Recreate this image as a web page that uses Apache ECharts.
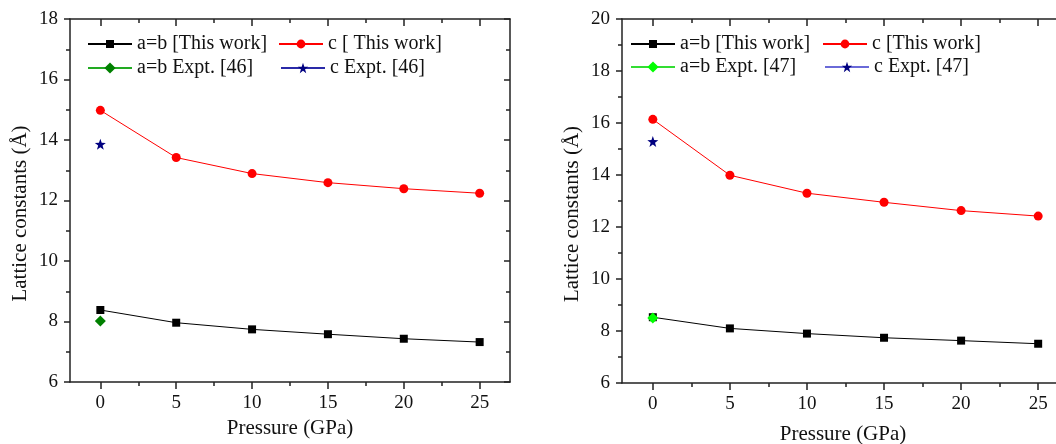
<!DOCTYPE html>
<html><head><meta charset="utf-8">
<script src="https://cdn.jsdelivr.net/npm/echarts@6/dist/echarts.min.js"></script>
<style>
html,body{margin:0;padding:0;background:#fff;}
#wrap{position:relative;width:1056px;height:444px;overflow:hidden;}
#c1{position:absolute;left:0;top:0;width:530px;height:444px;}
#c2{position:absolute;left:530px;top:0;width:526px;height:444px;}
</style>
</head><body><div id="wrap"><div id="c1"></div><div id="c2"></div></div>
<script>
// ---- data ----
const pressure = [0, 5, 10, 15, 20, 25];
const exptPressure = [0];
const xMajorTicks = [0, 5, 10, 15, 20, 25];
const xMinorTicks = [2.5, 7.5, 12.5, 17.5, 22.5];

const leftNames = ['a=b [This work]', 'c [ This work]', 'a=b Expt. [46]', 'c Expt. [46]'];
const leftAB = [8.38, 7.96, 7.74, 7.58, 7.43, 7.32];
const leftC = [14.98, 13.42, 12.89, 12.59, 12.39, 12.24];
const leftABExpt = [8.02];
const leftCExpt = [13.86];

const rightNames = ['a=b [This work]', 'c [This work]', 'a=b Expt. [47]', 'c Expt. [47]'];
const rightAB = [8.53, 8.10, 7.90, 7.74, 7.63, 7.51];
const rightC = [16.14, 13.99, 13.30, 12.95, 12.63, 12.42];
const rightABExpt = [8.50];
const rightCExpt = [15.29];

const yTitle = 'Lattice constants (Å)';
const xTitle = 'Pressure (GPa)';

// ---- styling ----
const FONT = 'Liberation Serif';
const AX = '#222';
const STAR = 'path://M0,-10L2.35,-3.24L9.51,-3.09L3.8,1.24L5.88,8.09L0,4L-5.88,8.09L-3.8,1.24L-9.51,-3.09L-2.35,-3.24Z';

function zip(xs, ys) { return ys.map((y, i) => [xs[i], y]); }

function build(cfg) {
  const g = cfg.grid;
  const lineAx = { show: true, onZero: false, lineStyle: { color: AX, width: 1.5 } };
  const tickStyle = { color: AX, width: 1.5 };
  const label = { fontFamily: FONT, fontSize: 19, color: '#111' };
  const xBase = { type: 'value', min: -2, max: 27, splitLine: { show: false } };
  const xAxis = [
    Object.assign({}, xBase, {
      position: 'bottom', axisLine: lineAx,
      axisTick: { customValues: xMajorTicks, length: 7, lineStyle: tickStyle },
      axisLabel: Object.assign({ customValues: xMajorTicks, margin: 12 }, label),
      name: xTitle, nameLocation: 'middle', nameGap: cfg.xNameGap,
      nameTextStyle: { fontFamily: FONT, fontSize: 21, color: '#111', padding: cfg.xNamePad }
    }),
    Object.assign({}, xBase, {
      position: 'bottom', axisLine: { show: false },
      axisTick: { customValues: xMinorTicks, length: 4, lineStyle: tickStyle },
      axisLabel: { show: false }
    }),
    Object.assign({}, xBase, {
      position: 'top', axisLine: lineAx,
      axisTick: { customValues: xMajorTicks, inside: true, length: 7, lineStyle: tickStyle },
      axisLabel: { show: false }
    }),
    Object.assign({}, xBase, {
      position: 'top', axisLine: { show: false },
      axisTick: { customValues: xMinorTicks, inside: true, length: 4, lineStyle: tickStyle },
      axisLabel: { show: false }
    })
  ];
  const yBase = { type: 'value', min: 6, max: cfg.yMax, interval: 2, splitLine: { show: false } };
  const yAxis = [
    Object.assign({}, yBase, {
      position: 'left', axisLine: lineAx,
      axisTick: { length: 6, lineStyle: tickStyle },
      minorTick: { show: true, splitNumber: 2, length: 4, lineStyle: tickStyle },
      axisLabel: Object.assign({ margin: 12 }, label),
      name: yTitle, nameLocation: 'middle', nameGap: cfg.yNameGap, nameMoveOverlap: false,
      nameTextStyle: { fontFamily: FONT, fontSize: 21, color: '#111', padding: [0, 26, 0, 0] }
    }),
    Object.assign({}, yBase, {
      position: 'right', axisLine: lineAx,
      axisTick: { inside: true, length: 6, lineStyle: tickStyle },
      minorTick: { show: true, splitNumber: 2, length: 4, lineStyle: tickStyle },
      axisLabel: { show: false }
    })
  ];
  const n = cfg.names;
  const series = [
    { name: n[0], type: 'line', data: zip(pressure, cfg.ab), symbol: 'rect', symbolSize: 8,
      itemStyle: { color: '#000' }, lineStyle: { color: '#000', width: 1 }, z: 3 },
    { name: n[1], type: 'line', data: zip(pressure, cfg.c), symbol: 'circle', symbolSize: 9,
      itemStyle: { color: '#ff0000' }, lineStyle: { color: '#ff0000', width: 1 }, z: 3 },
    { name: n[2], type: 'line', data: zip(exptPressure, cfg.abE), symbol: 'diamond', symbolSize: 11,
      itemStyle: { color: cfg.greenMark }, lineStyle: { color: cfg.greenLine, width: 1 }, z: 4 },
    { name: n[3], type: 'line', data: zip(exptPressure, cfg.cE), symbol: STAR, symbolSize: 11,
      itemStyle: { color: '#000080' }, lineStyle: { color: cfg.blueLine, width: 1 }, z: 4 }
  ];
  const legHeights = [10, 11, 14, 13];
  const legend = cfg.legendPos.map((p, i) => ({
    data: [n[i]], left: p[0], top: p[1] - 10, padding: 0, itemWidth: 44, itemHeight: legHeights[i],
    selectedMode: false, textStyle: { fontFamily: FONT, fontSize: 20, color: '#111' }
  }));
  return {
    animation: false,
    backgroundColor: '#fff',
    grid: { left: g[0], top: g[1], width: g[2], height: g[3], containLabel: false, outerBoundsMode: 'none' },
    xAxis, yAxis, series, legend
  };
}

const chartL = echarts.init(document.getElementById('c1'));
chartL.setOption(build({
  grid: [70, 19, 440, 363], yMax: 18, names: leftNames,
  ab: leftAB, c: leftC, abE: leftABExpt, cE: leftCExpt,
  greenMark: '#008000', greenLine: '#22aa22', blueLine: '#2a2aa8',
  legendPos: [[87, 44], [278, 44], [87, 68], [280, 68]],
  xNameGap: 35, xNamePad: [0, 0, 0, 0], yNameGap: 39
}));

const chartR = echarts.init(document.getElementById('c2'));
chartR.setOption(build({
  grid: [92, 19, 447, 364], yMax: 20, names: rightNames,
  ab: rightAB, c: rightC, abE: rightABExpt, cE: rightCExpt,
  greenMark: '#00ff00', greenLine: '#33dd33', blueLine: '#6a6ad8',
  legendPos: [[100, 44], [292, 44], [100, 67], [294, 67]],
  xNameGap: 41, xNamePad: [0, 5, 0, 0], yNameGap: 39
}));
</script>
</body></html>
